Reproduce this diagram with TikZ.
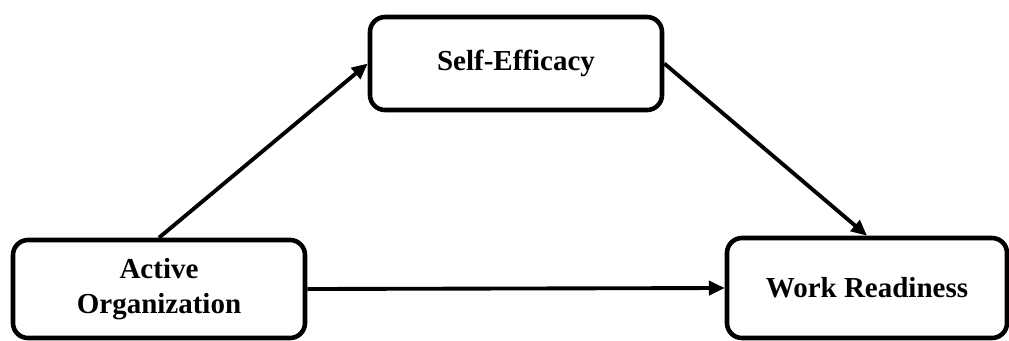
\documentclass[tikz,border=0pt]{standalone}
\usepackage{fontspec}
\setmainfont{Liberation Serif}
\usetikzlibrary{arrows.meta}

\begin{document}
\begin{tikzpicture}[line join=round,
   block/.style={draw,line width=2.6pt,rounded corners=0.3cm,align=center,
                 font=\fontsize{16.5}{20}\selectfont\bfseries,inner sep=0pt},
   link/.style={line width=2.2pt,-{Triangle[length=9pt,width=8pt]}}]
   \useasboundingbox (0,0) rectangle (20.18,6.8);
   \node (org) at (3.18,1.02) [block,minimum width=5.84cm,minimum height=1.96cm] {Active\\Organization};
   \node (efficacy) at (10.32,5.53) [block,minimum width=5.84cm,minimum height=1.86cm] {Self-Efficacy};
   \node (readiness) at (17.34,1.04) [block,minimum width=5.6cm,minimum height=2.0cm] {Work Readiness};
   \draw[link] (org.north) to (efficacy.west);
   \draw[link] (efficacy.east) to (readiness.north);
   \draw[link] (org.east) to (readiness.west);
  \end{tikzpicture}
\end{document}
